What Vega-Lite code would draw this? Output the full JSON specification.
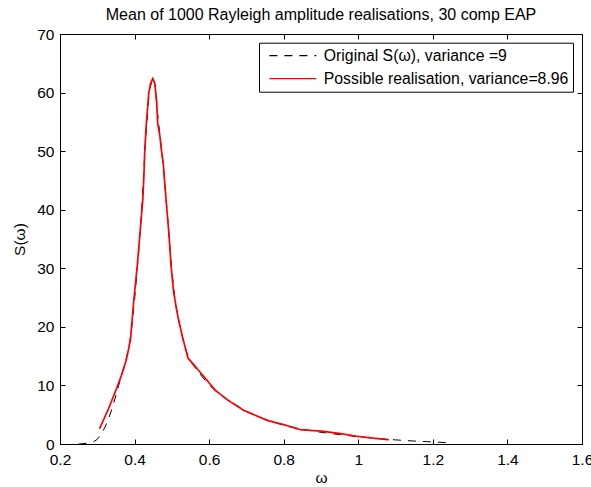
{
  "$schema": "https://vega.github.io/schema/vega-lite/v6.json",
  "autosize": {"type": "none"},
  "width": 522,
  "height": 410,
  "padding": {"left": 60, "top": 34, "right": 9, "bottom": 43},
  "background": "white",
  "title": {"text": "Mean of 1000 Rayleigh amplitude realisations, 30 comp EAP", "font": "Liberation Sans", "fontSize": 16, "fontWeight": "normal", "color": "black", "offset": 4},
  "config": {
    "view": {"stroke": null},
    "axis": {"labelFont": "Liberation Sans", "labelFontSize": 15.5, "labelColor": "black", "titleFont": "Liberation Sans", "titleFontSize": 15.5, "titleFontWeight": "normal", "titleColor": "black", "domainColor": "black", "tickColor": "black", "grid": false, "tickSize": -5, "domainWidth": 1, "tickWidth": 1},
    "legend": {"orient": "none", "legendX": 199, "legendY": 8.7, "padding": 4.5, "strokeColor": "black", "fillColor": "white", "labelFont": "Liberation Sans", "labelFontSize": 15.8, "labelColor": "black", "symbolType": "M-3,0H3", "symbolSize": 245, "symbolStrokeWidth": 1.2, "symbolOffset": 20.9, "labelOffset": 22.4, "rowPadding": 6, "labelLimit": 400}
  },
  "datasets": {
    "orig": [
      {"w": 0.25, "S": 0, "series": "Original S(ω), variance =9"},
      {"w": 0.27, "S": 0.1, "series": "Original S(ω), variance =9"},
      {"w": 0.29, "S": 0.4, "series": "Original S(ω), variance =9"},
      {"w": 0.30, "S": 0.8, "series": "Original S(ω), variance =9"},
      {"w": 0.31, "S": 1.6, "series": "Original S(ω), variance =9"},
      {"w": 0.32, "S": 2.8, "series": "Original S(ω), variance =9"},
      {"w": 0.33, "S": 4.3, "series": "Original S(ω), variance =9"},
      {"w": 0.34, "S": 6.1, "series": "Original S(ω), variance =9"},
      {"w": 0.35, "S": 8.3, "series": "Original S(ω), variance =9"},
      {"w": 0.36, "S": 10.6, "series": "Original S(ω), variance =9"},
      {"w": 0.37, "S": 12.9, "series": "Original S(ω), variance =9"},
      {"w": 0.38, "S": 15.2, "series": "Original S(ω), variance =9"},
      {"w": 0.39, "S": 18.5, "series": "Original S(ω), variance =9"},
      {"w": 0.40, "S": 24.6, "series": "Original S(ω), variance =9"},
      {"w": 0.41, "S": 32.0, "series": "Original S(ω), variance =9"},
      {"w": 0.42, "S": 41.0, "series": "Original S(ω), variance =9"},
      {"w": 0.43, "S": 52.5, "series": "Original S(ω), variance =9"},
      {"w": 0.44, "S": 60.5, "series": "Original S(ω), variance =9"},
      {"w": 0.449, "S": 62.4, "series": "Original S(ω), variance =9"},
      {"w": 0.455, "S": 61.3, "series": "Original S(ω), variance =9"},
      {"w": 0.46, "S": 57.5, "series": "Original S(ω), variance =9"},
      {"w": 0.47, "S": 51.5, "series": "Original S(ω), variance =9"},
      {"w": 0.48, "S": 45.5, "series": "Original S(ω), variance =9"},
      {"w": 0.49, "S": 37.5, "series": "Original S(ω), variance =9"},
      {"w": 0.50, "S": 29.5, "series": "Original S(ω), variance =9"},
      {"w": 0.51, "S": 23.8, "series": "Original S(ω), variance =9"},
      {"w": 0.52, "S": 20.6, "series": "Original S(ω), variance =9"},
      {"w": 0.53, "S": 17.8, "series": "Original S(ω), variance =9"},
      {"w": 0.545, "S": 14.6, "series": "Original S(ω), variance =9"},
      {"w": 0.565, "S": 12.8, "series": "Original S(ω), variance =9"},
      {"w": 0.585, "S": 11.2, "series": "Original S(ω), variance =9"},
      {"w": 0.60, "S": 10.1, "series": "Original S(ω), variance =9"},
      {"w": 0.62, "S": 8.9, "series": "Original S(ω), variance =9"},
      {"w": 0.65, "S": 7.5, "series": "Original S(ω), variance =9"},
      {"w": 0.70, "S": 5.6, "series": "Original S(ω), variance =9"},
      {"w": 0.75, "S": 4.2, "series": "Original S(ω), variance =9"},
      {"w": 0.80, "S": 3.2, "series": "Original S(ω), variance =9"},
      {"w": 0.85, "S": 2.5, "series": "Original S(ω), variance =9"},
      {"w": 0.90, "S": 2.0, "series": "Original S(ω), variance =9"},
      {"w": 0.95, "S": 1.6, "series": "Original S(ω), variance =9"},
      {"w": 1.00, "S": 1.25, "series": "Original S(ω), variance =9"},
      {"w": 1.05, "S": 0.95, "series": "Original S(ω), variance =9"},
      {"w": 1.10, "S": 0.7, "series": "Original S(ω), variance =9"},
      {"w": 1.15, "S": 0.5, "series": "Original S(ω), variance =9"},
      {"w": 1.20, "S": 0.35, "series": "Original S(ω), variance =9"},
      {"w": 1.25, "S": 0.2, "series": "Original S(ω), variance =9"}
    ],
    "real": [
      {"w": 0.306, "S": 2.6, "series": "Possible realisation, variance=8.96"},
      {"w": 0.33, "S": 6.0, "series": "Possible realisation, variance=8.96"},
      {"w": 0.35, "S": 9.2, "series": "Possible realisation, variance=8.96"},
      {"w": 0.367, "S": 12.1, "series": "Possible realisation, variance=8.96"},
      {"w": 0.378, "S": 14.4, "series": "Possible realisation, variance=8.96"},
      {"w": 0.389, "S": 17.8, "series": "Possible realisation, variance=8.96"},
      {"w": 0.398, "S": 24.6, "series": "Possible realisation, variance=8.96"},
      {"w": 0.407, "S": 30.3, "series": "Possible realisation, variance=8.96"},
      {"w": 0.416, "S": 37.1, "series": "Possible realisation, variance=8.96"},
      {"w": 0.422, "S": 41.7, "series": "Possible realisation, variance=8.96"},
      {"w": 0.425, "S": 45.7, "series": "Possible realisation, variance=8.96"},
      {"w": 0.427, "S": 49.6, "series": "Possible realisation, variance=8.96"},
      {"w": 0.431, "S": 54.2, "series": "Possible realisation, variance=8.96"},
      {"w": 0.438, "S": 59.9, "series": "Possible realisation, variance=8.96"},
      {"w": 0.443, "S": 61.6, "series": "Possible realisation, variance=8.96"},
      {"w": 0.449, "S": 62.4, "series": "Possible realisation, variance=8.96"},
      {"w": 0.454, "S": 61.6, "series": "Possible realisation, variance=8.96"},
      {"w": 0.459, "S": 58.7, "series": "Possible realisation, variance=8.96"},
      {"w": 0.462, "S": 54.8, "series": "Possible realisation, variance=8.96"},
      {"w": 0.468, "S": 52.5, "series": "Possible realisation, variance=8.96"},
      {"w": 0.472, "S": 50.2, "series": "Possible realisation, variance=8.96"},
      {"w": 0.477, "S": 47.9, "series": "Possible realisation, variance=8.96"},
      {"w": 0.481, "S": 44.5, "series": "Possible realisation, variance=8.96"},
      {"w": 0.486, "S": 40.5, "series": "Possible realisation, variance=8.96"},
      {"w": 0.492, "S": 36.0, "series": "Possible realisation, variance=8.96"},
      {"w": 0.498, "S": 30.3, "series": "Possible realisation, variance=8.96"},
      {"w": 0.505, "S": 25.8, "series": "Possible realisation, variance=8.96"},
      {"w": 0.516, "S": 21.8, "series": "Possible realisation, variance=8.96"},
      {"w": 0.528, "S": 18.4, "series": "Possible realisation, variance=8.96"},
      {"w": 0.543, "S": 14.7, "series": "Possible realisation, variance=8.96"},
      {"w": 0.566, "S": 13.0, "series": "Possible realisation, variance=8.96"},
      {"w": 0.586, "S": 11.5, "series": "Possible realisation, variance=8.96"},
      {"w": 0.617, "S": 9.15, "series": "Possible realisation, variance=8.96"},
      {"w": 0.65, "S": 7.5, "series": "Possible realisation, variance=8.96"},
      {"w": 0.693, "S": 5.73, "series": "Possible realisation, variance=8.96"},
      {"w": 0.756, "S": 4.03, "series": "Possible realisation, variance=8.96"},
      {"w": 0.80, "S": 3.3, "series": "Possible realisation, variance=8.96"},
      {"w": 0.845, "S": 2.44, "series": "Possible realisation, variance=8.96"},
      {"w": 0.90, "S": 2.2, "series": "Possible realisation, variance=8.96"},
      {"w": 0.95, "S": 1.8, "series": "Possible realisation, variance=8.96"},
      {"w": 0.997, "S": 1.3, "series": "Possible realisation, variance=8.96"},
      {"w": 1.04, "S": 1.0, "series": "Possible realisation, variance=8.96"},
      {"w": 1.082, "S": 0.73, "series": "Possible realisation, variance=8.96"}
    ]
  },
  "resolve": {"axis": {"x": "independent", "y": "independent"}},
  "layer": [
    {
      "data": {"name": "orig"},
      "mark": {"type": "line", "strokeWidth": 1, "clip": true},
      "encoding": {
        "x": {"field": "w", "type": "quantitative", "scale": {"domain": [0.2, 1.6], "nice": false, "zero": false}, "axis": {"orient": "bottom", "title": "ω", "format": "~g", "values": [0.2, 0.4, 0.6, 0.8, 1, 1.2, 1.4, 1.6], "labelPadding": 13, "titlePadding": 3, "labelFlush": false}},
        "y": {"field": "S", "type": "quantitative", "scale": {"domain": [0, 70], "nice": false}, "axis": {"orient": "left", "title": "S(ω)", "values": [0, 10, 20, 30, 40, 50, 60, 70], "labelPadding": 11, "titlePadding": 9, "labelFlush": false}},
        "color": {"field": "series", "type": "nominal", "scale": {"domain": ["Original S(ω), variance =9", "Possible realisation, variance=8.96"], "range": ["black", "#ff0000"]}, "legend": {"title": null}},
        "strokeDash": {"field": "series", "type": "nominal", "scale": {"domain": ["Original S(ω), variance =9", "Possible realisation, variance=8.96"], "range": [[8, 7], [1, 0]]}, "legend": {"title": null}}
      }
    },
    {
      "data": {"name": "real"},
      "mark": {"type": "line", "strokeWidth": 1.7, "clip": true},
      "encoding": {
        "x": {"field": "w", "type": "quantitative", "scale": {"domain": [0.2, 1.6], "nice": false, "zero": false}, "axis": {"orient": "top", "title": null, "labels": false, "values": [0.2, 0.4, 0.6, 0.8, 1, 1.2, 1.4, 1.6]}},
        "y": {"field": "S", "type": "quantitative", "scale": {"domain": [0, 70], "nice": false}, "axis": {"orient": "right", "title": null, "labels": false, "values": [0, 10, 20, 30, 40, 50, 60, 70]}},
        "color": {"field": "series", "type": "nominal", "scale": {"domain": ["Original S(ω), variance =9", "Possible realisation, variance=8.96"], "range": ["black", "#ff0000"]}, "legend": {"title": null}},
        "strokeDash": {"field": "series", "type": "nominal", "scale": {"domain": ["Original S(ω), variance =9", "Possible realisation, variance=8.96"], "range": [[8, 7], [1, 0]]}, "legend": {"title": null}}
      }
    }
  ]
}
